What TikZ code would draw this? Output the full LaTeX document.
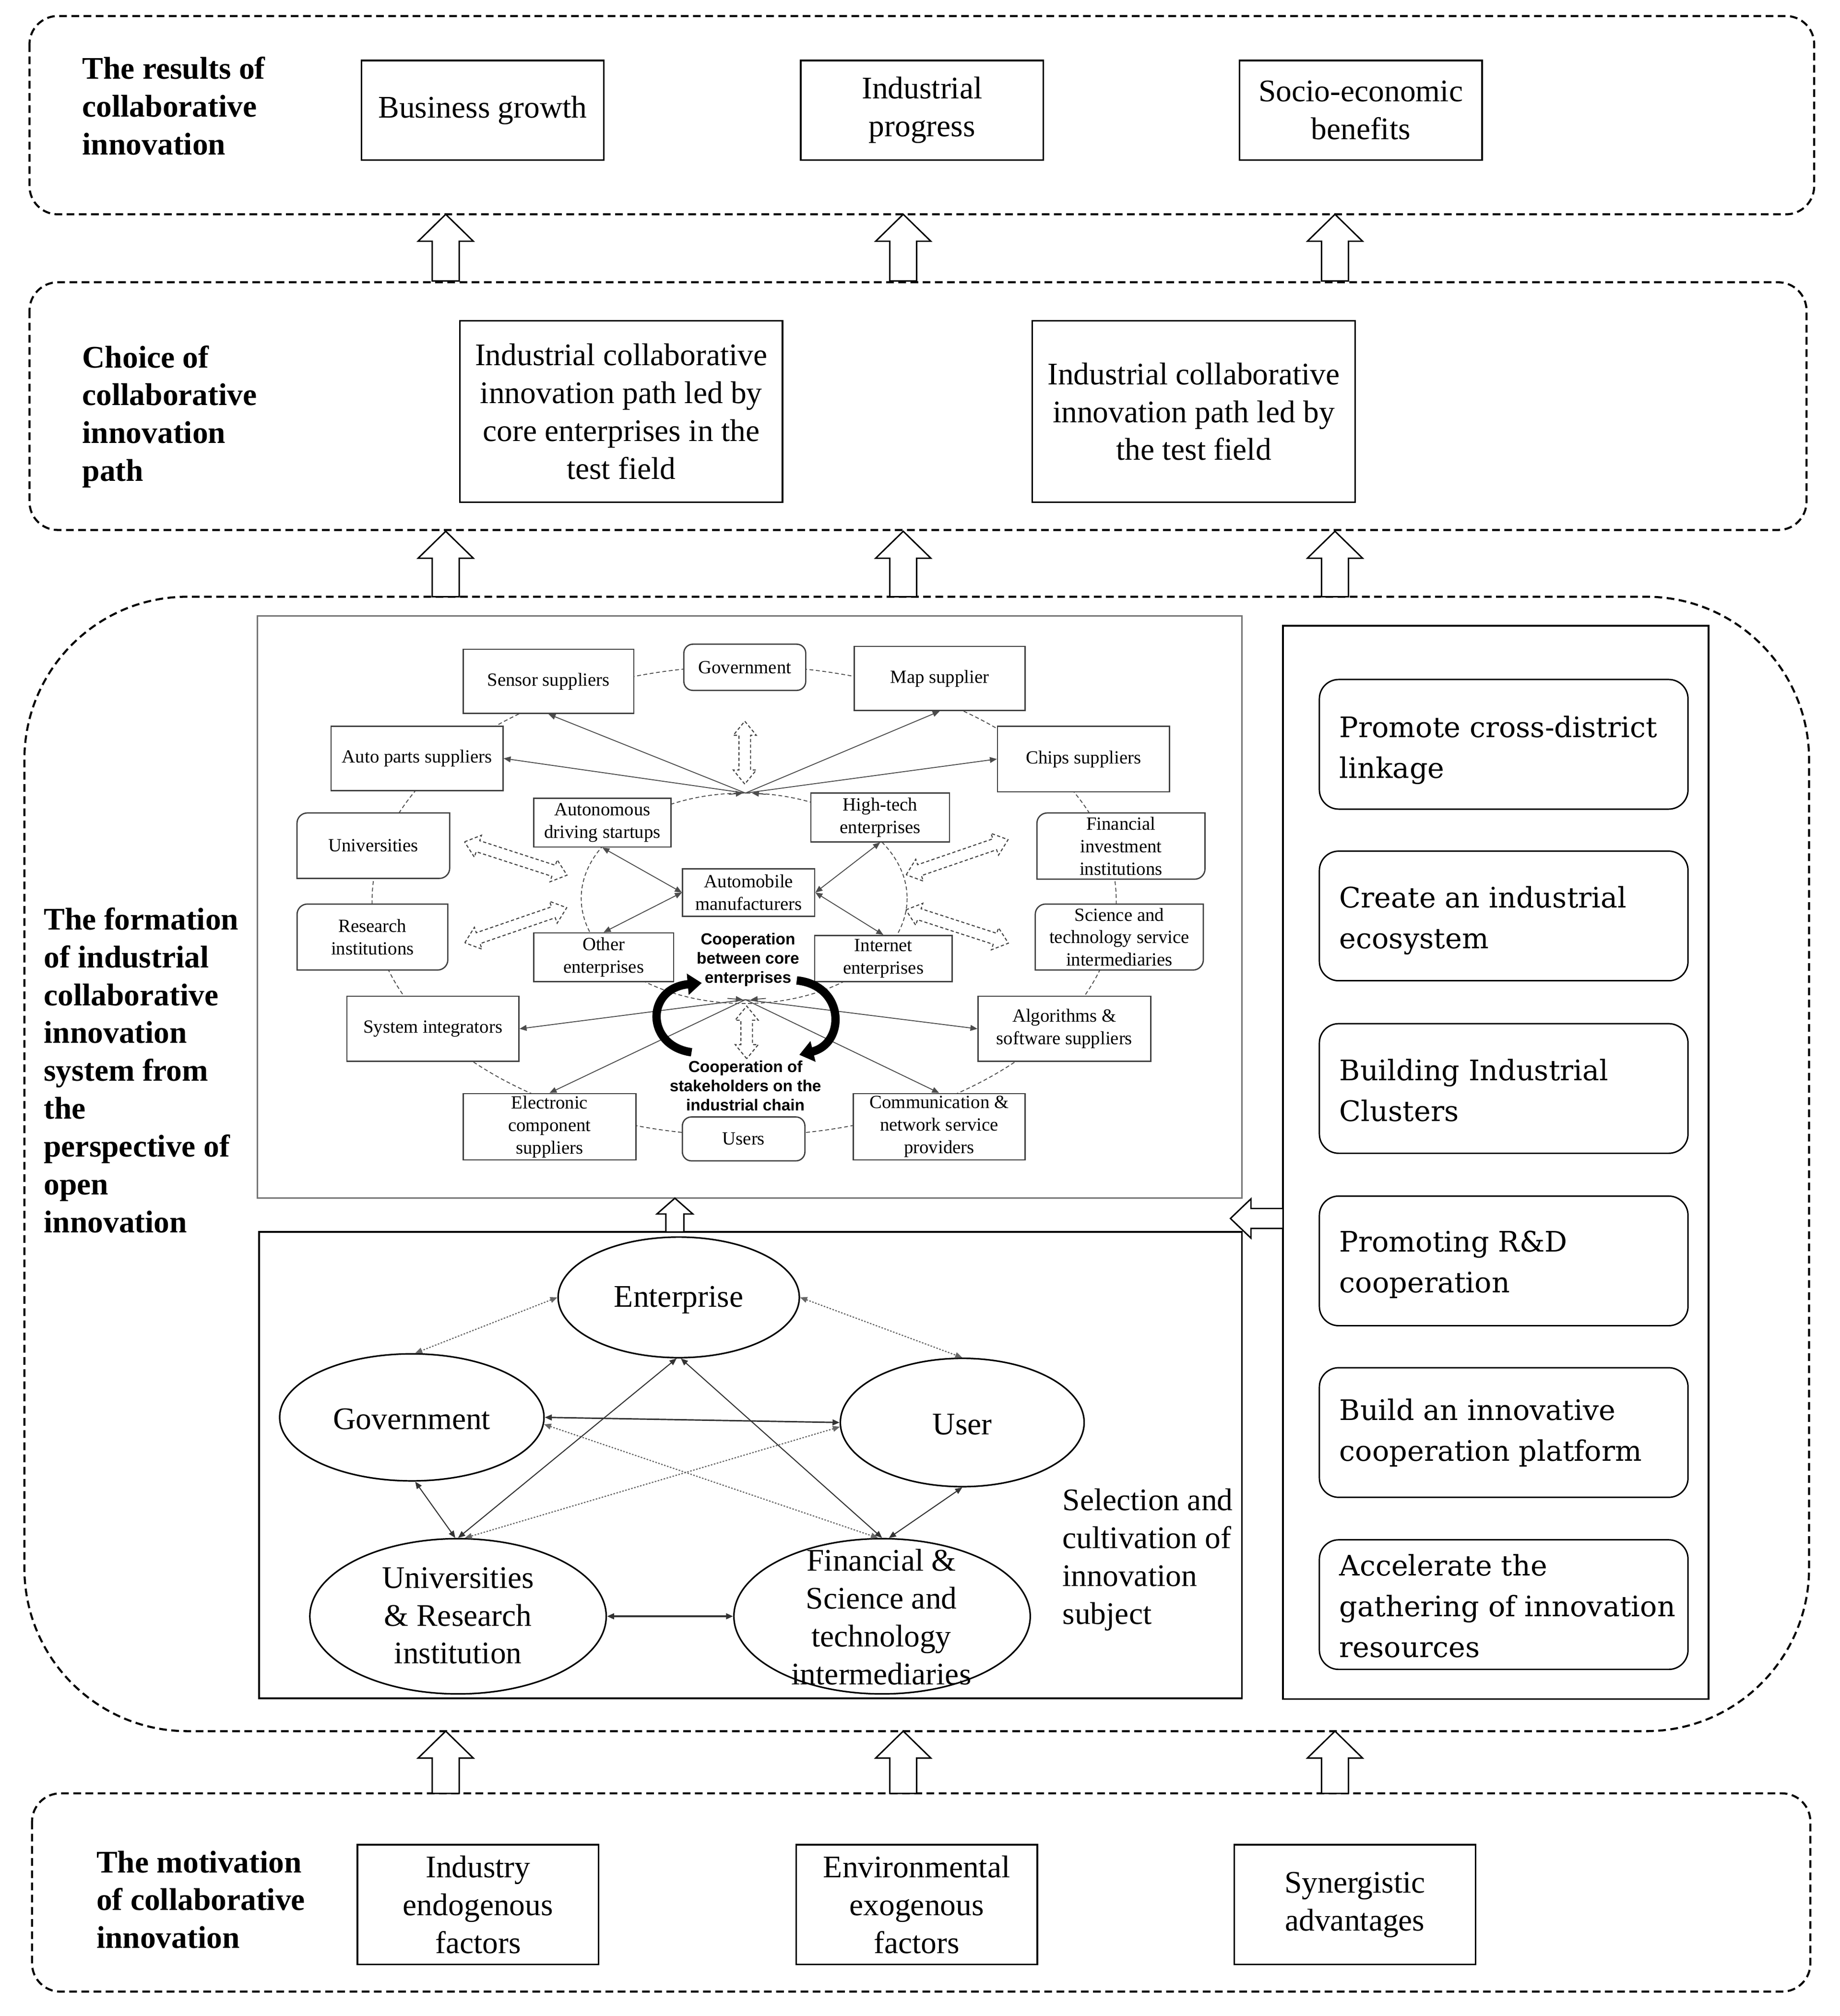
\documentclass[tikz,border=0pt]{standalone}
\usepackage{fontspec}
\setmainfont{Liberation Serif}
\newfontfamily\rpfont{DejaVu Serif}
\newfontfamily\lsans{Liberation Sans}
\usetikzlibrary{arrows.meta,shapes.geometric,calc}
\newcommand\diagr[1]{%
 \draw[draw=black!75, line width=1pt] let \p1=(#1.north west), \p2=(#1.south east) in
 (\x1,\y2) -- (\x1,\y1-8pt) .. controls (\x1,\y1-3.6pt) and (\x1+3.6pt,\y1) .. (\x1+8pt,\y1)
 -- (\x2,\y1) -- (\x2,\y2+8pt) .. controls (\x2,\y2+3.6pt) and (\x2-3.6pt,\y2) .. (\x2-8pt,\y2) -- cycle;}
\tikzset{
 big/.style={font=\fontsize{24.5}{29.5}\selectfont},
 lab/.style={font=\fontsize{24.5}{29.5}\selectfont\bfseries, align=left, anchor=north west, inner sep=0pt},
 mbox/.style={draw, line width=1.3pt, big, align=center, inner sep=0pt},
 dashbox/.style={draw, line width=1.6pt, dash pattern=on 6pt off 3.5pt},
 nbox/.style={draw=black!75, fill=white, line width=1pt, font=\fontsize{14.5}{17.5}\selectfont, align=center, inner sep=0pt},
 nboxd/.style={nbox, draw=none},
 nline/.style={draw=black!70, line width=0.7pt},
 onetip/.style={-{Triangle[length=5.5pt,width=4.5pt]}},
 twotips/.style={{Triangle[length=5.5pt,width=4.5pt]}-{Triangle[length=5.5pt,width=4.5pt]}},
 ell/.style={ellipse, draw, line width=1.2pt, inner sep=0pt},
 esolid/.style={draw=black!80, line width=0.8pt, twotips},
 edot/.style={draw=black!60, line width=0.9pt, dash pattern=on 1.2pt off 1.2pt, twotips},
 rbox/.style={draw, line width=1.1pt, rounded corners=15pt, minimum width=287.3pt, minimum height=101pt, inner sep=0pt},
 rtext/.style={font=\rpfont\fontsize{22}{31.8}\selectfont, align=left, anchor=west, inner sep=0pt},
 coop/.style={font=\lsans\bfseries\fontsize{12.5}{15}\selectfont, align=center, inner sep=0pt},
 pics/uparr/.style={code={\draw[fill=white, line width=1.1pt] (-10.5,0) -- (-10.5,-#1+21) -- (-21.5,-#1+21) -- (0,-#1) -- (21.5,-#1+21) -- (10.5,-#1+21) -- (10.5,0) -- cycle;}},
 pics/dblarr/.style={code={\draw[black!75, fill=white, line width=0.8pt, dash pattern=on 2.5pt off 1.8pt] (-#1,0) -- (-#1+11,-9) -- (-#1+11,-4.5) -- (#1-11,-4.5) -- (#1-11,-9) -- (#1,0) -- (#1-11,9) -- (#1-11,4.5) -- (-#1+11,4.5) -- (-#1+11,9) -- cycle;}},
}
\begin{document}
\begin{tikzpicture}[x=1pt,y=-1pt]
\useasboundingbox (0,0) rectangle (1434,1571);
\fill[white] (0,0) rectangle (1434,1571);

% ---------- dashed frames ----------
\draw[dashbox, rounded corners=22pt] (23,12.5) rectangle (1414,167);
\draw[dashbox, rounded corners=22pt] (23,220) rectangle (1408,413);
\draw[dashbox, rounded corners=127pt] (19,465) rectangle (1410,1349);
\draw[dashbox, rounded corners=22pt] (25,1397.5) rectangle (1411,1552);

% ---------- left labels ----------
\node[lab] (l1) at (64,44) {The results of\\collaborative\\innovation};
\node[lab] (l2) at (64,269) {Choice of\\collaborative\\innovation\\path};
\node[lab] (l3) at (34,707) {The formation\\of industrial\\collaborative\\innovation\\system from\\the\\perspective of\\open\\innovation};
\node[lab] (l4) at (75,1442) {The motivation\\of collaborative\\innovation};

% ---------- results row ----------
\node[mbox, minimum width=189pt, minimum height=77.5pt] (bg) at (376.2,85.9) {Business growth};
\node[mbox, minimum width=189pt, minimum height=77.5pt] (ip) at (718.7,85.9) {Industrial\\progress};
\node[mbox, minimum width=189pt, minimum height=77.5pt] (se) at (1060.6,85.9) {Socio-economic\\benefits};

% ---------- path row ----------
\node[mbox, minimum width=251.5pt, minimum height=141.3pt] (p1) at (484.2,320.7) {Industrial collaborative\\innovation path led by\\core enterprises in the\\test field};
\node[mbox, minimum width=251.5pt, minimum height=141.3pt] (p2) at (930.4,320.7) {Industrial collaborative\\innovation path led by\\the test field};

% ---------- motivation row ----------
\node[mbox, minimum width=188pt, minimum height=93.3pt] (m1) at (372.6,1484.2) {Industry\\endogenous\\factors};
\node[mbox, minimum width=188pt, minimum height=93.3pt] (m2) at (714.5,1484.2) {Environmental\\exogenous\\factors};
\node[mbox, minimum width=188pt, minimum height=93.3pt] (m3) at (1056,1484.2) {Synergistic\\advantages};

% ---------- block arrows between layers ----------
\foreach \x in {347.4,704,1040.5} {
  \pic at (\x,219) {uparr=52};
  \pic at (\x,465) {uparr=51};
  \pic at (\x,1397.5) {uparr=48.5};
}

% ---------- panels ----------
\draw[draw=black!55, line width=1.2pt] (200.7,480) rectangle (968,933.7);
\draw[line width=1.3pt] (202,960) rectangle (968,1323.5);
\draw[line width=1.3pt] (1000,487.7) rectangle (1331.7,1323.9);

% right panel boxes
\node[rbox] (r1) at (1172,580) {};
\node[rbox] (r2) at (1172,713.75) {};
\node[rbox] (r3) at (1172,848.2) {};
\node[rbox] (r4) at (1172,982.55) {};
\node[rbox] (r5) at (1172,1116.3) {};
\node[rbox] (r6) at (1172,1250.4) {};
\node[rtext] (t1) at (1043.8,584.5) {Promote cross-district\\linkage};
\node[rtext] (t2) at (1043.8,717.3) {Create an industrial\\ecosystem};
\node[rtext] (t3) at (1043.8,849.6) {Building Industrial\\Clusters};
\node[rtext] (t4) at (1043.8,985.3) {Promoting R\&D\\cooperation};
\node[rtext] (t5) at (1043.8,1116.7) {Build an innovative\\cooperation platform};
\node[rtext] (t6) at (1043.8,1251.4) {Accelerate the\\gathering of innovation\\resources};

% hollow arrows between panels
\draw[fill=white, line width=1.1pt] (1000,941.7) -- (975,941.7) -- (975,934.2) -- (959,949.5) -- (975,964.8) -- (975,957.3) -- (1000,957.3) -- cycle;
\draw[fill=white, line width=1.1pt] (519,960) -- (519,946) -- (512,946) -- (526,933.7) -- (540,946) -- (533,946) -- (533,960) -- cycle;

% ---------- network panel ----------
\draw[nline, dash pattern=on 3pt off 2pt] (580,702) ellipse [x radius=290, y radius=183];
\draw[nline, dash pattern=on 3pt off 2pt] (580,700) ellipse [x radius=127, y radius=82];

\pic[rotate=-18] at (402,669) {dblarr=42};
\pic[rotate=19] at (402,721) {dblarr=42};
\pic[rotate=19] at (746,668) {dblarr=42};
\pic[rotate=-18] at (746,722) {dblarr=42};
\pic[rotate=90] at (580.5,586.5) {dblarr=24.5};
\pic[rotate=90] at (582,804.5) {dblarr=20.5};

\node[nbox, rounded corners=7pt, minimum width=95pt, minimum height=36pt] (ngov) at (580.5,520) {Government};
\node[nbox, minimum width=133pt, minimum height=50pt] (nsen) at (427.5,531) {Sensor suppliers};
\node[nbox, minimum width=133pt, minimum height=50pt] (nmap) at (732.4,528.7) {Map supplier};
\node[nbox, minimum width=134pt, minimum height=50pt] (napt) at (325,591) {Auto parts suppliers};
\node[nbox, minimum width=134pt, minimum height=51pt] (nchp) at (844.5,591.5) {Chips suppliers};
\node[nboxd, minimum width=118pt, minimum height=50pt] (nuni) at (291,659) {Universities}; \diagr{nuni}
\node[nboxd, minimum width=130pt, minimum height=50.6pt] (nfin) at (873.7,659.3) {Financial\\investment\\institutions}; \diagr{nfin}
\node[nboxd, minimum width=116.5pt, minimum height=50.4pt] (nres) at (290.3,730.2) {Research\\institutions}; \diagr{nres}
\node[nboxd, minimum width=130pt, minimum height=50.4pt] (nsci) at (872.4,730.2) {Science and\\technology service\\intermediaries}; \diagr{nsci}
\node[nbox, minimum width=134pt, minimum height=50.7pt] (nsys) at (337.4,801.7) {System integrators};
\node[nbox, minimum width=134.5pt, minimum height=50.7pt] (nalg) at (829.6,801.7) {Algorithms \&\\software suppliers};
\node[nbox, minimum width=134.5pt, minimum height=51.6pt] (nele) at (428.3,878) {Electronic\\component\\suppliers};
\node[nbox, minimum width=134pt, minimum height=51.6pt] (ncom) at (732,878) {Communication \&\\network service\\providers};
\node[nbox, rounded corners=7pt, minimum width=95.5pt, minimum height=34.2pt] (nusr) at (579.6,887.5) {Users};
\node[nbox, minimum width=107pt, minimum height=38pt] (naut) at (469.5,641) {Autonomous\\driving startups};
\node[nbox, minimum width=108pt, minimum height=38pt] (nhit) at (686,637) {High-tech\\enterprises};
\node[nbox, minimum width=103pt, minimum height=37pt] (nmfr) at (583.5,695.5) {Automobile\\manufacturers};
\node[nbox, minimum width=109pt, minimum height=38pt] (noth) at (470.5,746) {Other\\enterprises};
\node[nbox, minimum width=107pt, minimum height=36pt] (nint) at (688.5,747) {Internet\\enterprises};

\coordinate (ct) at (581,618);
\coordinate (cb) at (581,779);
\draw[nline, onetip] (ct) -- (nsen.south);
\draw[nline, onetip] (ct) -- (napt.east);
\draw[nline, onetip] (ct) -- (nmap.south);
\draw[nline, onetip] (ct) -- (nchp.west);
\draw[nline, onetip] (cb) -- (nsys.east);
\draw[nline, onetip] (cb) -- (nele.north);
\draw[nline, onetip] (cb) -- (nalg.west);
\draw[nline, onetip] (cb) -- (ncom.north);
\draw[nline, onetip] (568,619) -- (579,618);
\draw[nline, onetip] (597,619) -- (586,618);
\draw[nline, onetip] (567,778) -- (579,779);
\draw[nline, onetip] (597,778) -- (585,779);
\draw[nline, twotips] (naut.south) -- (nmfr.west);
\draw[nline, twotips] (noth.north) -- (nmfr.west);
\draw[nline, twotips] (nhit.south) -- (nmfr.east);
\draw[nline, twotips] (nint.north) -- (nmfr.east);

% thick curved arrows
\draw[line width=6.5pt, -{Triangle[length=11pt,width=16pt]}] (539,820) .. controls (503,815) and (503,770) .. (547,766);
\draw[line width=6.5pt, -{Triangle[length=11pt,width=16pt]}] (621,764) .. controls (659,768) and (659,813) .. (623,822);

\node[coop] (cop1) at (583,748) {Cooperation\\between core\\enterprises};
\node[coop] (cop2) at (581,846) {Cooperation of\\stakeholders on the\\industrial chain};

% ---------- innovation subjects ----------
\node[ell, minimum width=188pt, minimum height=94pt] (ent) at (529,1011) {};
\node[ell, minimum width=206pt, minimum height=99pt] (gov) at (321,1104.5) {};
\node[ell, minimum width=190pt, minimum height=100pt] (usr) at (750,1108.5) {};
\node[ell, minimum width=231pt, minimum height=121pt] (uni) at (357,1259.5) {};
\node[ell, minimum width=231pt, minimum height=121pt] (fin) at (687.5,1259.5) {};
\node[big, align=center, inner sep=0pt] (entT) at (529,1013) {Enterprise};
\node[big, align=center, inner sep=0pt] (govT) at (321,1106) {Government};
\node[big, align=center, inner sep=0pt] (usrT) at (750,1110) {User};
\node[big, align=center, inner sep=0pt] (uniT) at (357,1259) {Universities\\\& Research\\institution};
\node[big, align=center, inner sep=0pt] (finT) at (687,1260) {Financial \&\\Science and\\technology\\intermediaries};

\draw[edot] (ent.west) -- (gov.87);
\draw[edot] (ent.east) -- (usr.north);
\draw[esolid, line width=1.1pt] (gov.east) -- (usr.west);
\draw[edot] (gov.-3) -- (fin.93);
\draw[esolid] (ent.-92) -- (uni.north);
\draw[esolid] (ent.-88) -- (fin.north);
\draw[edot] (usr.182) -- (uni.85);
\draw[esolid] (gov.-87) -- (uni.92);
\draw[esolid] (usr.south) -- (fin.85);
\draw[esolid, line width=1.2pt] (uni.east) -- (fin.west);

\node[big, align=left, anchor=north west, inner sep=0pt] (sel) at (828,1160) {Selection and\\cultivation of\\innovation\\subject};
\end{tikzpicture}
\end{document}
